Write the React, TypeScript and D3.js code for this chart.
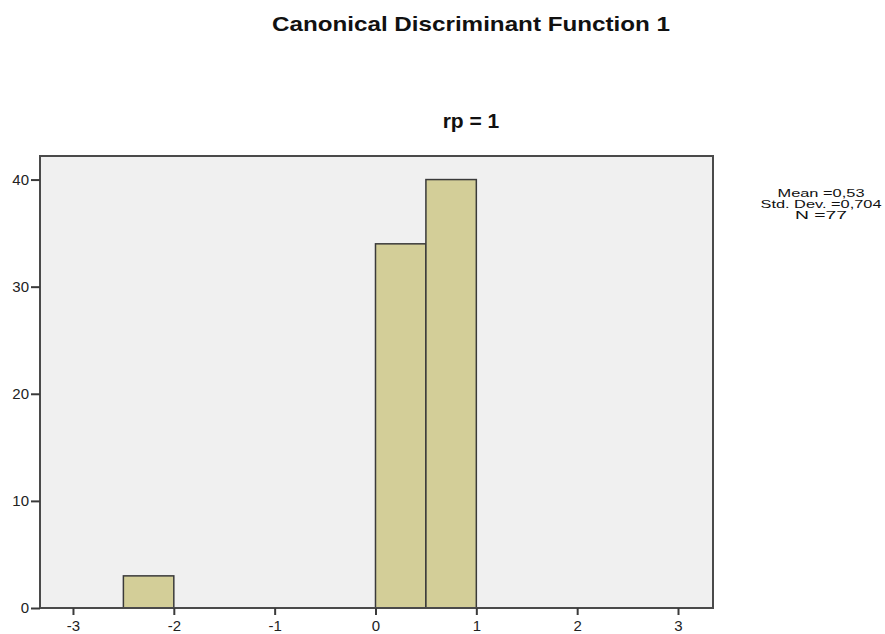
import React, { useRef, useEffect } from "react";
import * as d3 from "d3";

// histogram bins (lower edge, upper edge) and counts
const binStarts = [-2.5, 0, 0.5];
const binEnds = [-2, 0.5, 1];
const counts = [3, 34, 40];

const xTicks = [-3, -2, -1, 0, 1, 2, 3];
const yTicks = [0, 10, 20, 30, 40];
const statLines = ["Mean =0,53", "Std. Dev. =0,704", "N =77"];
const statWidths = [87, 121, 52];

const chartTitle = "Canonical Discriminant Function 1";
const panelTitle = "rp = 1";

const App: React.FC = () => {
  const d3Container = useRef(null);

  useEffect(() => {
    if (d3Container.current) {
      drawChart();
    }
  }, []);

  const drawChart = () => {
    const width = 885;
    const height = 634;
    const plot = { left: 40, right: 713, top: 156, bottom: 608 };
    const font = "'Liberation Sans', Arial, sans-serif";

    d3.select(d3Container.current).selectChildren().remove();

    const svg = d3
      .select(d3Container.current)
      .append("svg")
      .attr("width", width)
      .attr("height", height)
      .style("position", "absolute")
      .style("left", "0px")
      .style("top", "0px")
      .style("background", "#ffffff");

    // Scales
    const x = d3
      .scaleLinear()
      .domain([-3.327, 3.347])
      .range([plot.left, plot.right]);

    const y = d3
      .scaleLinear()
      .domain([0, 42.2])
      .range([plot.bottom, plot.top]);

    // Plot background
    svg
      .append("rect")
      .attr("x", plot.left)
      .attr("y", plot.top)
      .attr("width", plot.right - plot.left)
      .attr("height", plot.bottom - plot.top)
      .attr("fill", "#f0f0f0");

    // Bars
    const bins = counts.map((c, i) => ({ x0: binStarts[i], x1: binEnds[i], count: c }));
    svg
      .append("g")
      .selectAll("rect")
      .data(bins)
      .join("rect")
      .attr("x", (d) => x(d.x0))
      .attr("y", (d) => y(d.count))
      .attr("width", (d) => x(d.x1) - x(d.x0))
      .attr("height", (d) => y(0) - y(d.count))
      .attr("fill", "#d3ce98")
      .attr("stroke", "#3a3a3a")
      .attr("stroke-width", 1.5);

    // Frame
    svg
      .append("rect")
      .attr("x", plot.left)
      .attr("y", plot.top)
      .attr("width", plot.right - plot.left)
      .attr("height", plot.bottom - plot.top)
      .attr("fill", "none")
      .attr("stroke", "#4a4a4a")
      .attr("stroke-width", 2);

    // Axes
    const xAxis = svg
      .append("g")
      .attr("transform", `translate(0,${plot.bottom})`)
      .call(d3.axisBottom(x).tickValues(xTicks).tickSize(7).tickFormat((d) => String(d)));
    xAxis.select(".domain").remove();
    xAxis.selectAll(".tick line").attr("stroke", "#3a3a3a").attr("stroke-width", 2);
    xAxis
      .selectAll(".tick text")
      .attr("y", 12)
      .attr("dy", "0.71em")
      .attr("font-family", font)
      .attr("font-size", 15)
      .attr("fill", "#222");

    const yAxis = svg
      .append("g")
      .attr("transform", `translate(${plot.left},0)`)
      .call(d3.axisLeft(y).tickValues(yTicks).tickSize(9).tickFormat((d) => String(d)));
    yAxis.select(".domain").remove();
    yAxis.selectAll(".tick line").attr("stroke", "#3a3a3a").attr("stroke-width", 2);
    yAxis
      .selectAll(".tick text")
      .attr("x", -11)
      .attr("font-family", font)
      .attr("font-size", 15)
      .attr("fill", "#222");

    // Titles
    svg
      .append("text")
      .attr("x", 471)
      .attr("y", 31)
      .attr("text-anchor", "middle")
      .attr("font-family", font)
      .attr("font-weight", "bold")
      .attr("font-size", 21)
      .attr("textLength", 398)
      .attr("lengthAdjust", "spacingAndGlyphs")
      .attr("fill", "#111")
      .text(chartTitle);

    svg
      .append("text")
      .attr("x", 471)
      .attr("y", 128)
      .attr("text-anchor", "middle")
      .attr("font-family", font)
      .attr("font-weight", "bold")
      .attr("font-size", 21)
      .attr("fill", "#111")
      .text(panelTitle);

    // Summary statistics
    svg
      .append("g")
      .selectAll("text")
      .data(statLines)
      .join("text")
      .attr("x", 821)
      .attr("y", (d, i) => 197 + i * 11)
      .attr("text-anchor", "middle")
      .attr("font-family", font)
      .attr("font-size", 11.5)
      .attr("textLength", (d, i) => statWidths[i])
      .attr("lengthAdjust", "spacingAndGlyphs")
      .attr("fill", "#111")
      .text((d) => d);
  };

  return (
    <div>
      <div ref={d3Container} />
    </div>
  );
};

export default App;
